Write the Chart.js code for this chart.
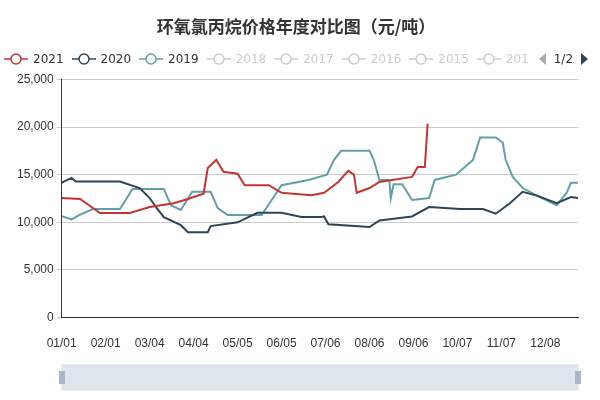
<!DOCTYPE html>
<html><head><meta charset="utf-8">
<script src="https://cdn.jsdelivr.net/npm/chart.js@4"></script>
<style>
body{margin:0;background:#fff;font-family:"Noto Sans CJK SC",sans-serif}
#wrap{position:relative;width:600px;height:400px}
#legend{position:absolute;top:52px;left:4px;font:12px "DejaVu Sans",sans-serif;white-space:nowrap;display:flex;align-items:center}
.it{display:flex;align-items:center;margin-right:8px}
.it svg{margin-right:5px}
</style></head>
<body><div id="wrap"><canvas id="c" width="600" height="400"></canvas><div id="legend"></div></div>
<script>
const tickLabels = ["01/01","02/01","03/04","04/04","05/05","06/05","07/06","08/06","09/06","10/07","11/07","12/08"];
const legendYears = ["2021","2020","2019","2018","2017","2016","2015","201"];
const legendColors = ["#c23531","#2f4554","#61a0a8","#ccc","#ccc","#ccc","#ccc","#ccc"];

const days2021 = [0,13,27,48,62,79,89,93,100,103,109,114,124,129,146,155,176,185,195,202,206,208,217,224,247,251,256,258];
const vals2021 = [12550,12450,10970,10970,11600,12000,12450,12660,13000,15700,16560,15300,15100,13900,13900,13100,12850,13100,14240,15400,15000,13100,13600,14240,14770,15800,15800,20360];

const days2020 = [0,7,10,41,55,62,67,72,84,89,103,105,124,138,155,169,183,185,188,217,224,247,259,281,297,306,316,325,335,349,359,364];
const vals2020 = [14170,14660,14280,14280,13600,12550,11500,10550,9700,8970,8970,9600,10000,11000,11000,10550,10550,10620,9800,9500,10200,10620,11600,11400,11400,10900,12000,13200,12800,12000,12650,12550];

const days2019 = [0,7,13,22,41,50,72,77,84,92,105,110,117,141,155,174,187,192,197,217,220,224,231,232,234,240,247,259,263,278,290,295,306,311,313,318,325,335,349,356,359,364];
const vals2019 = [10650,10300,10800,11400,11400,13500,13500,11800,11300,13200,13200,11500,10760,10760,13900,14450,15000,16560,17500,17500,16560,14450,14450,12550,14000,14000,12340,12550,14450,15000,16560,18900,18900,18350,16560,14770,13600,12800,11800,13100,14140,14140];

const toXY = (d, v) => d.map((x, i) => ({x, y: v[i]}));

// legend
const lg = document.getElementById('legend');
legendYears.forEach((y, i) => {
  const c = legendColors[i];
  lg.insertAdjacentHTML('beforeend', `<span class="it"><svg width="24" height="14"><line x1="0" y1="7" x2="24" y2="7" stroke="${c}" stroke-width="1.5"/><circle cx="12" cy="7" r="5" fill="#fff" stroke="${c}" stroke-width="1.5"/></svg><span style="color:${i < 3 ? '#333' : '#ccc'}">${y}</span></span>`);
});
lg.insertAdjacentHTML('beforeend', `<svg width="12" height="14" style="margin-left:0"><polygon points="9,1 9,13 2,7" fill="#aaa"/></svg><span style="color:#333;margin:0 5px">1/2</span><svg width="12" height="14"><polygon points="3,1 3,13 10,7" fill="#2f4554"/></svg>`);

const slider = {
  id: 'slider',
  afterDraw(ch) {
    const g = ch.ctx, l = 62, r = 578, t = 365, b = 390;
    g.save();
    g.fillStyle = 'rgba(167,183,204,0.35)';
    g.fillRect(l, t, r - l, b - t);
    g.strokeStyle = '#ddd';
    g.strokeRect(l, t, r - l, b - t);
    g.fillStyle = '#a7b7cc';
    [l, r].forEach(x => { g.fillRect(x - 3, t + 6, 6, 13); });
    g.restore();
  }
};

const mk = (label, d, v, color) => ({
  label, data: toXY(d, v), borderColor: color, borderWidth: 2,
  pointRadius: 0, tension: 0, fill: false
});

new Chart(document.getElementById('c'), {
  type: 'line',
  data: { datasets: [
    mk('2021', days2021, vals2021, '#c23531'),
    mk('2020', days2020, vals2020, '#2f4554'),
    mk('2019', days2019, vals2019, '#61a0a8')
  ]},
  options: {
    responsive: false, animation: false,
    layout: { padding: { left: 14, right: 22, top: 2, bottom: 35 } },
    plugins: {
      legend: { display: false },
      tooltip: { enabled: false },
      title: { display: true, text: '环氧氯丙烷价格年度对比图（元/吨）', color: '#333',
        font: { size: 17, weight: 'bold', family: '"Noto Sans CJK SC"' }, padding: { top: 14, bottom: 43 } }
    },
    scales: {
      x: { type: 'linear', min: 0, max: 364,
        grid: { display: false, drawTicks: true, tickLength: 5, color: '#333' },
        border: { color: '#333' },
        afterBuildTicks: a => { a.ticks = tickLabels.map((_, i) => ({ value: i * 31 })); },
        ticks: { color: '#333', font: { size: 12 }, padding: 14, maxRotation: 0,
          callback: v => tickLabels[v / 31] } },
      y: { min: 0, max: 25000,
        grid: { color: '#ccc', tickLength: 5 },
        border: { color: '#333' },
        ticks: { stepSize: 5000, color: '#333', font: { size: 12 },
          callback: v => v.toLocaleString('en-US') } }
    }
  },
  plugins: [slider]
});
</script></body></html>
